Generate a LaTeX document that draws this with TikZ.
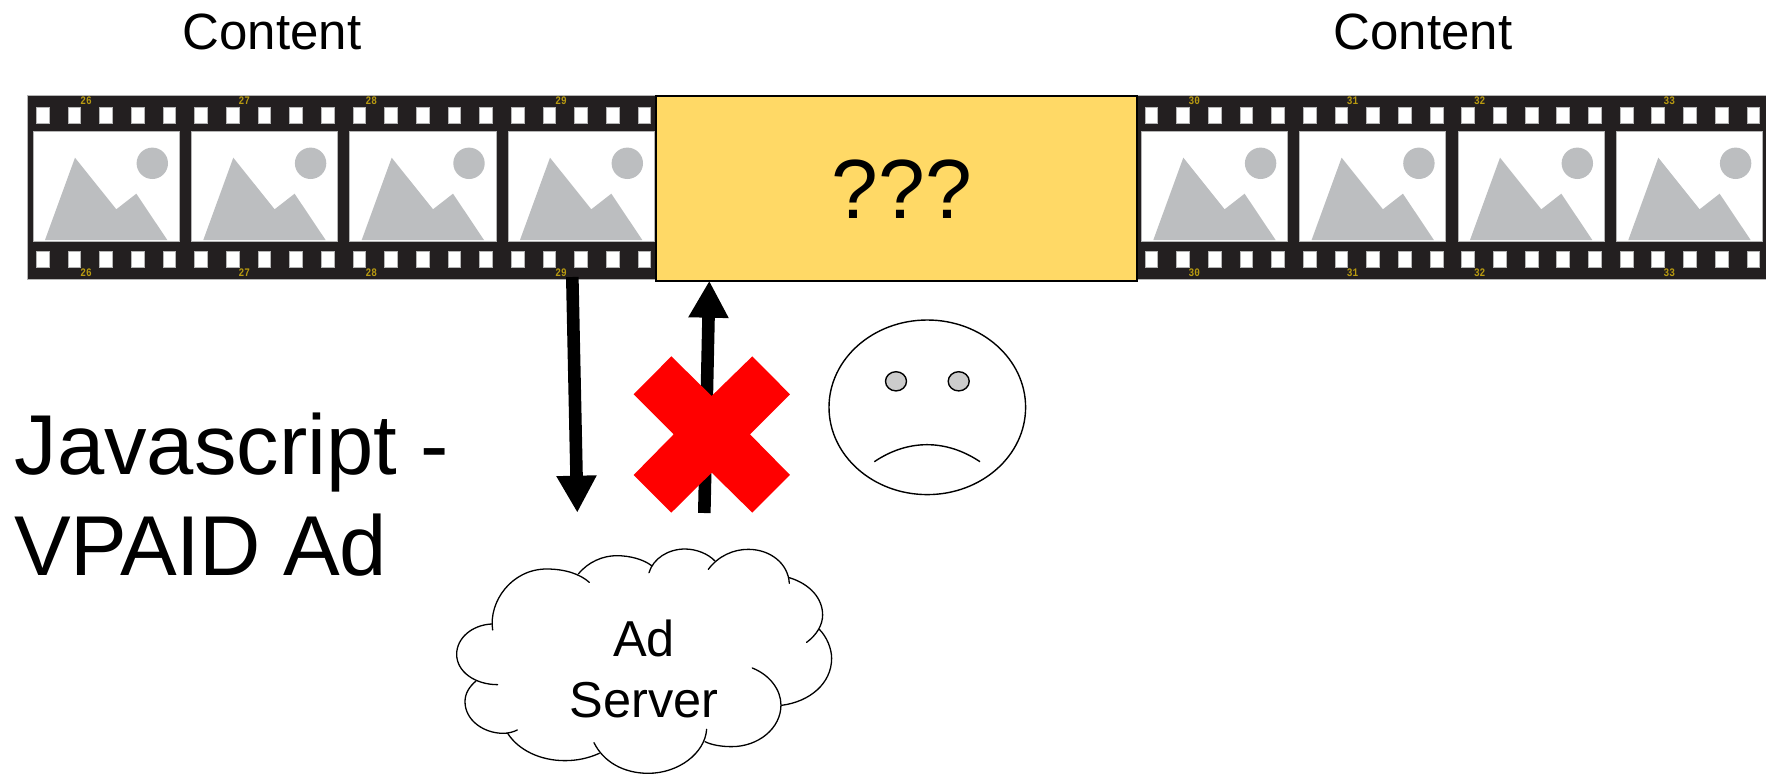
\documentclass[tikz,border=0pt]{standalone}
\usepackage{fontspec}
\setmainfont{Liberation Sans}
\newfontfamily\filmfont{Liberation Mono}[FakeStretch=0.82]
\usetikzlibrary{arrows.meta}
\definecolor{filmblack}{HTML}{231F20}
\definecolor{picgray}{HTML}{BCBEC0}
\definecolor{edgegray}{HTML}{B5B5B5}
\definecolor{numgold}{HTML}{B89A10}
\definecolor{adyellow}{HTML}{FFD966}
\definecolor{eyegray}{HTML}{CCCCCC}
\tikzset{
  filmband/.style={fill=filmblack,draw=edgegray,line width=0.4pt},
  perfhole/.style={fill=white,draw=edgegray,line width=0.5pt},
  frameglass/.style={fill=white,draw=edgegray,line width=0.9pt},
  picshape/.style={fill=picgray,draw=none},
  framenum/.style={inner sep=0pt,text=numgold,font=\filmfont\bfseries\fontsize{11.5}{12}\selectfont},
  label50/.style={inner sep=0pt,anchor=base,font=\fontsize{51}{60.6}\selectfont},
  label85/.style={inner sep=0pt,font=\fontsize{85}{101}\selectfont},
  bigarrow/.style={line width=12.6pt,-{Triangle[length=37pt,width=37.7pt]}},
  cloudline/.style={line width=1.3pt,line cap=round},
  faceline/.style={line width=1.4pt},
}
\newcommand{\filmframe}[4]{%
  \begin{scope}[shift={(#1,0)}]
    \draw[frameglass] (0,131.7) rectangle (146.3,241.3);
    \fill[picshape] (12,240) -- (42,157.7) -- (83.3,209.3) -- (103.3,193.7) -- (134.3,240) -- cycle;
    \fill[picshape] (119.3,163.3) circle[radius=15.7];
    \node[framenum] (#4t) at (#3,101) {#2};
    \node[framenum] (#4b) at (#3,273) {#2};
  \end{scope}}
\begin{document}
\begin{tikzpicture}[x=1pt,y=-1pt]
\useasboundingbox (0,0) rectangle (1766,774);
% film strips
\node[filmband,inner sep=0pt,minimum width=640pt,minimum height=184pt,anchor=north west] (stripL) at (27,95.3) {};
\node[filmband,inner sep=0pt,minimum width=631pt,minimum height=184pt,anchor=north west] (stripR) at (1136,95.3) {};
\foreach \k in {0,...,19}{
  \draw[perfhole] ({36.3+31.67*\k},107) rectangle +(12.7,16.3);
  \draw[perfhole] ({36.3+31.67*\k},251.3) rectangle +(12.7,16.3);
  \draw[perfhole] ({1145+31.67*\k},107) rectangle +(12.7,16.3);
  \draw[perfhole] ({1145+31.67*\k},251.3) rectangle +(12.7,16.3);
}
\filmframe{33}{26}{53}{fa}
\filmframe{191.3}{27}{53}{fb}
\filmframe{349.7}{28}{21.7}{fc}
\filmframe{508}{29}{53}{fd}
\filmframe{1141.3}{30}{53}{fe}
\filmframe{1299.6}{31}{53}{ff}
\filmframe{1458}{32}{21.7}{fg}
\filmframe{1616.3}{33}{53}{fh}
% ad placeholder
\node[fill=adyellow,draw=black,line width=1.5pt,inner sep=0pt,minimum width=481pt,minimum height=185.3pt,anchor=north west] (adbox) at (655,95) {};
\node[label85,anchor=base,font=\fontsize{84}{101}\selectfont] (qmarks) at (901.7,218.3) {???};
% titles
\node[label50] (contentL) at (272,49.5) {Content};
\node[label50] (contentR) at (1423,49.5) {Content};
\node[label85,align=left,anchor=base west] (vpaid) at (14.5,575) {Javascript -\\{\addfontfeature{LetterSpace=-0.8}VPAID Ad}};
% connectors
\coordinate (downA) at (572.3,277);
\coordinate (downB) at (577.3,512.7);
\coordinate (upA) at (704.3,513);
\coordinate (upB) at (709.3,280.7);
\draw[bigarrow] (downA) -- (downB);
\draw[bigarrow] (upA) -- (upB);
% red cross
\begin{scope}[shift={(540,260)},x=0.3333pt,y=-0.3333pt]
\fill[red] (394,289) -- (515,408) -- (637,289) -- (750,403) -- (630,523) -- (750,645) -- (637,758) -- (515,638) -- (394,758) -- (281,645) -- (401,523) -- (281,403) -- cycle;
\end{scope}
% sad face
\draw[faceline] (927.3,407.3) ellipse[x radius=98.3,y radius=87.3];
\draw[faceline,fill=eyegray] (896,381.3) ellipse[x radius=10.5,y radius=9.6];
\draw[faceline,fill=eyegray] (958.7,381.3) ellipse[x radius=10.5,y radius=9.6];
\draw[faceline] (874.3,461.7) .. controls (908,439) and (946,439) .. (980,461.7);
% cloud
\begin{scope}[shift={(440,520)},x=0.3333pt,y=-0.3333pt]
\draw[cloudline] (158,330) .. controls (145,245) and (215,147) .. (320,147) .. controls (375,147) and (420,162) .. (448,187);
\draw[cloudline] (415,162) .. controls (445,125) and (490,107) .. (530,107) .. controls (570,107) and (610,118) .. (635,137);
\draw[cloudline] (627,158) .. controls (640,115) and (685,87) .. (735,87) .. controls (770,87) and (805,102) .. (825,123);
\draw[cloudline] (805,148) .. controls (835,108) and (880,88) .. (925,88) .. controls (990,88) and (1045,130) .. (1048,190);
\draw[cloudline] (1048,173) .. controls (1110,192) and (1148,235) .. (1148,285) .. controls (1148,315) and (1130,345) .. (1100,367);
\draw[cloudline] (1138,328) .. controls (1160,350) and (1175,385) .. (1175,415) .. controls (1175,490) and (1110,545) .. (1025,556);
\draw[cloudline] (937,444) .. controls (990,465) and (1023,510) .. (1023,555) .. controls (1023,625) and (955,680) .. (875,680) .. controls (845,680) and (815,675) .. (795,665);
\draw[cloudline] (800,628) .. controls (795,700) and (715,760) .. (625,760) .. controls (550,760) and (490,725) .. (462,668);
\draw[cloudline] (478,700) .. controls (445,715) and (410,722) .. (375,722) .. controls (300,722) and (235,690) .. (203,640);
\draw[cloudline] (232,630) .. controls (220,636) and (205,640) .. (190,640) .. controls (130,640) and (75,600) .. (75,545) .. controls (75,520) and (88,500) .. (108,483);
\draw[cloudline] (173,494) .. controls (105,494) and (50,455) .. (50,403) .. controls (50,355) and (95,315) .. (155,312);
\end{scope}
\node[label50,align=center,anchor=base,font=\fontsize{50.5}{60.6}\selectfont] (adserver) at (644,717.3) {Ad\\Server};
\end{tikzpicture}
\end{document}
